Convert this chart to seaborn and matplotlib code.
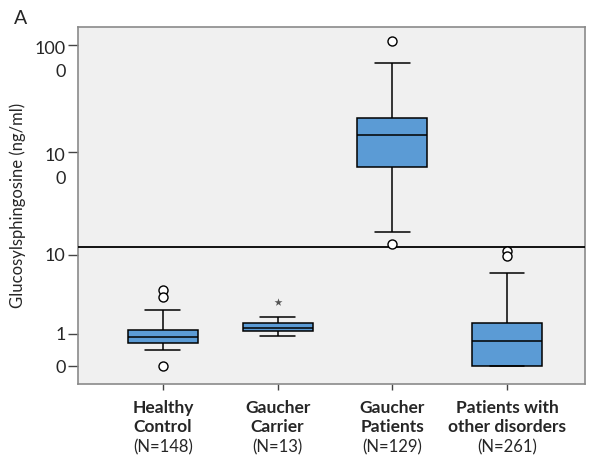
import numpy as np
import pandas as pd
import matplotlib
matplotlib.use("Agg")
import matplotlib.pyplot as plt
import matplotlib.transforms as mtransforms
import seaborn as sns

# groups and labels
groups = ["Healthy Control", "Gaucher Carrier", "Gaucher Patients", "Patients with other disorders"]
bold_labels = ["Healthy\nControl", "Gaucher\nCarrier", "Gaucher\nPatients", "Patients with\nother disorders"]
n_labels = ["(N=148)", "(N=13)", "(N=129)", "(N=261)"]

# box statistics (ng/ml)
whisker_low = [0.42, 0.89, 16.9, 0.0]
q1 = [0.63, 1.12, 72.0, 0.0]
median = [0.88, 1.26, 142.0, 0.73]
q3 = [1.17, 1.51, 206.0, 1.51]
whisker_high = [2.31, 1.87, 675.0, 6.45]

# outliers (circles) and extreme value (star)
outlier_group = ["Healthy Control", "Healthy Control", "Healthy Control",
                 "Gaucher Patients", "Gaucher Patients",
                 "Patients with other disorders", "Patients with other disorders"]
outlier_value = [4.13, 3.41, 0.0, 1090.0, 12.9, 10.9, 9.7]
extreme_group = ["Gaucher Carrier"]
extreme_value = [2.96]

ytick_values = [0, 1, 10, 100, 1000]
ytick_labels = ["0", "1", "10", "10\n0", "100\n0"]
break_value = 12


def fwd(y):
    return np.log10(np.clip(np.asarray(y, dtype=float) + 1, 1e-9, None))


def inv(y):
    return 10 ** np.asarray(y, dtype=float) - 1


# long-form table whose quartiles / extremes equal the read statistics
rows = []
for i, g in enumerate(groups):
    vals = [whisker_low[i]] + [q1[i]] * 20 + [median[i]] * 20 + [q3[i]] * 20 + [whisker_high[i]]
    rows += [(g, v) for v in vals]
df = pd.DataFrame(rows, columns=["group", "value"])

sns.set_style("white")
plt.rcParams["font.family"] = ["Lato", "DejaVu Sans"]

fig = plt.figure(figsize=(5.89, 4.57), dpi=100)
ax = fig.add_axes([78 / 589, 1 - 384 / 457, 507 / 589, 357 / 457])
ax.set_facecolor("#F0F0F0")
ax.set_yscale("function", functions=(fwd, inv))

sns.boxplot(data=df, x="group", y="value", order=groups, whis=(0, 100), width=0.61,
            color="#5B9BD5", saturation=1, linecolor="black", linewidth=1.1,
            showfliers=False, ax=ax)
sns.stripplot(x=outlier_group, y=outlier_value, order=groups, jitter=False, marker="o",
              size=6.5, color="white", edgecolor="black", linewidth=1.0, ax=ax, zorder=5)
sns.stripplot(x=extreme_group, y=extreme_value, order=groups, jitter=False, marker="*",
              size=6, color="#555555", ax=ax, zorder=5)

ax.axhline(break_value, color="black", lw=1.3, zorder=4)

ax.set_xlim(-0.74, 3.68)
ax.set_ylim(-0.321, 1473)
ax.set_yticks(ytick_values)
ax.set_yticklabels(ytick_labels, fontsize=13, linespacing=1.5)
ax.yaxis.set_minor_locator(matplotlib.ticker.NullLocator())
ax.tick_params(axis="y", left=True, length=7, width=1, color="#444444", pad=2)
ax.tick_params(axis="x", bottom=True, length=4, width=1, color="#444444", labelbottom=False)
ax.set_xlabel("")
ax.set_ylabel("")

# wrapped labels: first line sits on the tick, the rest hangs below
shift = mtransforms.ScaledTranslation(0, -7.9 / 72, fig.dpi_scale_trans)
for lbl in ax.get_yticklabels():
    if "\n" in lbl.get_text():
        lbl.set_transform(lbl.get_transform() + shift)

for s in ax.spines.values():
    s.set_color("#8A8A8A")
    s.set_linewidth(1.2)

tr = ax.get_xaxis_transform()
for i in range(len(groups)):
    ax.text(i, -0.094, bold_labels[i], transform=tr, ha="center", va="center",
            fontsize=12.5, fontweight="bold", linespacing=1.2)
    ax.text(i, -0.177, n_labels[i], transform=tr, ha="center", va="center", fontsize=12)

fig.text(18 / 589, 1 - 205 / 457, "Glucosylsphingosine (ng/ml)", rotation=90,
         ha="center", va="center", fontsize=12)
fig.text(14 / 589, 1 - 19 / 457, "A", ha="left", va="center", fontsize=14)

fig.savefig("out.png", dpi=100)
